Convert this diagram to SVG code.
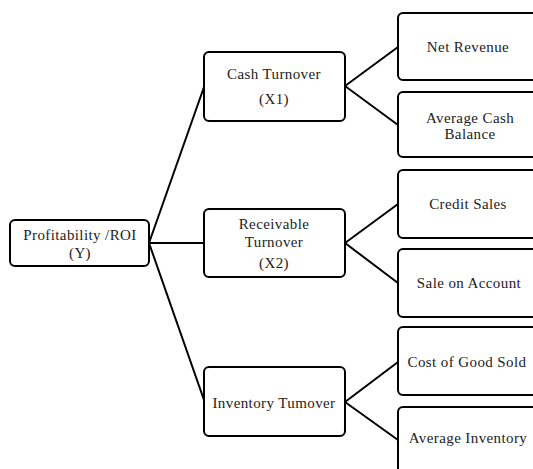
<svg xmlns="http://www.w3.org/2000/svg" width="533" height="469" viewBox="0 0 533 469">
<style>
.box{fill:#fff;stroke:#000;stroke-width:2}
.t{font-family:'Liberation Serif','DejaVu Serif',serif;font-size:15px;letter-spacing:0.4px;text-anchor:middle;fill:#222}
.c{stroke:#000;stroke-width:2;fill:none}
</style>
<rect width="533" height="469" fill="#fff"/>
<g id="connectors">
<line class="c" x1="149" y1="243" x2="204" y2="87"/>
<line class="c" x1="149" y1="243" x2="204" y2="243"/>
<line class="c" x1="149" y1="243" x2="204" y2="400"/>
<line class="c" x1="345" y1="86" x2="398" y2="47"/>
<line class="c" x1="345" y1="86" x2="398" y2="125"/>
<line class="c" x1="345" y1="243" x2="398" y2="204"/>
<line class="c" x1="345" y1="243" x2="398" y2="283"/>
<line class="c" x1="345" y1="402" x2="398" y2="362"/>
<line class="c" x1="345" y1="402" x2="398" y2="440"/>
</g>
<g id="root">
<rect class="box" x="10" y="220" width="139" height="46" rx="5"/>
<text class="t" x="80" y="240" font-family="Liberation Serif, serif">Profitability /ROI</text>
<text class="t" x="80" y="258" font-family="Liberation Serif, serif">(Y)</text>
</g>
<g id="cash">
<rect class="box" x="204" y="52" width="141" height="69" rx="5"/>
<text class="t" x="274" y="79">Cash Turnover</text>
<text class="t" x="274" y="104">(X1)</text>
</g>
<g id="receivable">
<rect class="box" x="204" y="209" width="141" height="68" rx="5"/>
<text class="t" x="274" y="229">Receivable</text>
<text class="t" x="274" y="247">Turnover</text>
<text class="t" x="274" y="268">(X2)</text>
</g>
<g id="inventory">
<rect class="box" x="204" y="367" width="141" height="69" rx="5"/>
<text class="t" x="274" y="408">Inventory Tumover</text>
</g>
<g id="netrevenue">
<rect class="box" x="398" y="13" width="145" height="67" rx="5"/>
<text class="t" x="468" y="52">Net Revenue</text>
</g>
<g id="avgcash">
<rect class="box" x="398" y="92" width="145" height="65" rx="5"/>
<text class="t" x="470" y="123">Average Cash</text>
<text class="t" x="470" y="139">Balance</text>
</g>
<g id="creditsales">
<rect class="box" x="398" y="170" width="145" height="68" rx="5"/>
<text class="t" x="468" y="209">Credit Sales</text>
</g>
<g id="saleonaccount">
<rect class="box" x="398" y="249" width="145" height="68" rx="5"/>
<text class="t" x="469" y="288">Sale on Account</text>
</g>
<g id="cogs">
<rect class="box" x="398" y="327" width="145" height="68" rx="5"/>
<text class="t" x="467" y="367">Cost of Good Sold</text>
</g>
<g id="avginventory">
<rect class="box" x="398" y="407" width="145" height="68" rx="5"/>
<text class="t" x="468" y="443">Average Inventory</text>
</g>
</svg>
